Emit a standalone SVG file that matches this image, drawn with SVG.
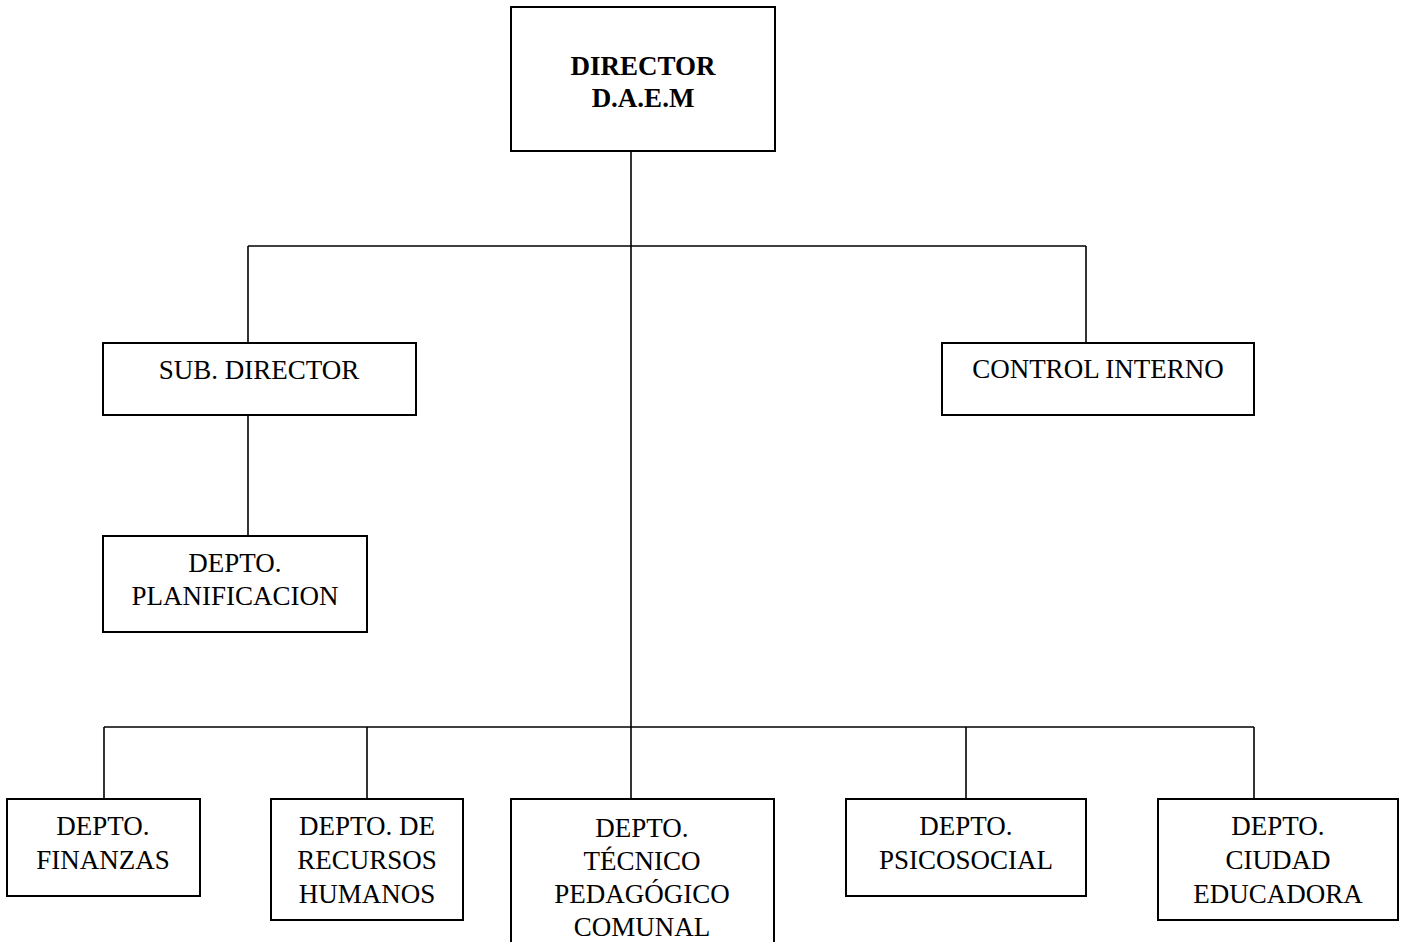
<svg xmlns="http://www.w3.org/2000/svg" width="1405" height="942" viewBox="0 0 1405 942">
<style>
.box{fill:#fff;stroke:#000;stroke-width:2}
.ln{fill:none;stroke:#000;stroke-width:1.6}
text{font-family:"Palatino Linotype","P052","URW Palladio L","Liberation Serif",serif;font-size:27px;fill:#000;text-anchor:middle}
.b{font-weight:bold}
</style>
<rect width="1405" height="942" fill="#fff"/>
<g id="connectors">
<path class="ln" d="M631 151V799"/>
<path class="ln" d="M248 246H1086"/>
<path class="ln" d="M248 246V343"/>
<path class="ln" d="M1086 246V343"/>
<path class="ln" d="M248 416V536"/>
<path class="ln" d="M104 727H1254"/>
<path class="ln" d="M104 727V799"/>
<path class="ln" d="M367 727V799"/>
<path class="ln" d="M966 727V799"/>
<path class="ln" d="M1254 727V799"/>
</g>
<g id="director">
<rect class="box" x="511" y="7" width="264" height="144"/>
<text class="b" x="643" y="75">DIRECTOR</text>
<text class="b" x="643" y="107">D.A.E.M</text>
</g>
<g id="subdirector">
<rect class="box" x="103" y="343" width="313" height="72"/>
<text x="259" y="379">SUB. DIRECTOR</text>
</g>
<g id="control">
<rect class="box" x="942" y="343" width="312" height="72"/>
<text x="1098" y="378">CONTROL INTERNO</text>
</g>
<g id="planificacion">
<rect class="box" x="103" y="536" width="264" height="96"/>
<text x="235" y="572">DEPTO.</text>
<text x="235" y="605">PLANIFICACION</text>
</g>
<g id="finanzas">
<rect class="box" x="7" y="799" width="193" height="97"/>
<text x="103" y="835">DEPTO.</text>
<text x="103" y="869">FINANZAS</text>
</g>
<g id="rrhh">
<rect class="box" x="271" y="799" width="192" height="121"/>
<text x="367" y="835">DEPTO. DE</text>
<text x="367" y="869">RECURSOS</text>
<text x="367" y="903">HUMANOS</text>
</g>
<g id="tecnico">
<rect class="box" x="511" y="799" width="263" height="160"/>
<text x="642" y="837">DEPTO.</text>
<text x="642" y="870">TÉCNICO</text>
<text x="642" y="903">PEDAGÓGICO</text>
<text x="642" y="936">COMUNAL</text>
</g>
<g id="psicosocial">
<rect class="box" x="846" y="799" width="240" height="97"/>
<text x="966" y="835">DEPTO.</text>
<text x="966" y="869">PSICOSOCIAL</text>
</g>
<g id="ciudad">
<rect class="box" x="1158" y="799" width="240" height="121"/>
<text x="1278" y="835">DEPTO.</text>
<text x="1278" y="869">CIUDAD</text>
<text x="1278" y="903">EDUCADORA</text>
</g>
</svg>
